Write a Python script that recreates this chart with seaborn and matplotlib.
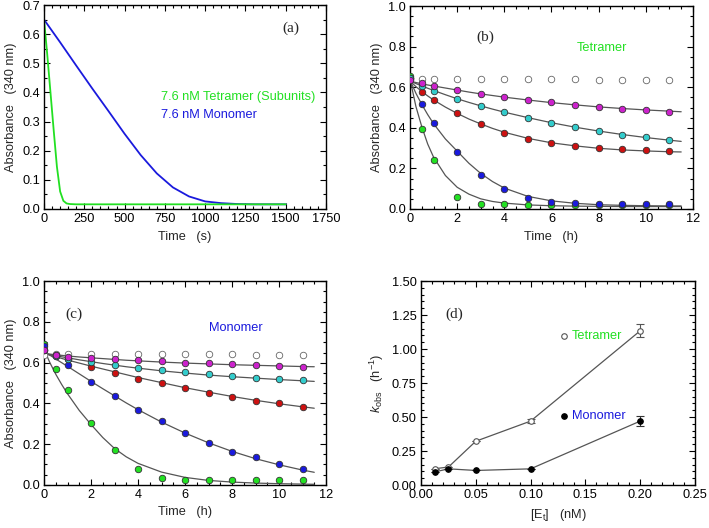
import numpy as np
import pandas as pd
import matplotlib
matplotlib.use("Agg")
import matplotlib.pyplot as plt
from matplotlib.ticker import MultipleLocator, FormatStrFormatter
import seaborn as sns

# ---------------- data ----------------
# panel (a): progress curves (time in s)
a_mono_t = [0, 100, 200, 300, 400, 500, 600, 700, 800, 900, 1000, 1100, 1200, 1300, 1500]
a_mono_A = [0.65, 0.572, 0.492, 0.413, 0.336, 0.258, 0.185, 0.122, 0.074, 0.043, 0.026, 0.020, 0.017, 0.016, 0.016]
a_tetra_t = [0, 20, 40, 60, 80, 100, 120, 140, 160, 200, 300, 1500]
a_tetra_A = [0.65, 0.53, 0.40, 0.27, 0.145, 0.06, 0.028, 0.019, 0.017, 0.016, 0.016, 0.016]

# panel (b)/(c): sampling times (h)
times = [0, 0.5, 1, 2, 3, 4, 5, 6, 7, 8, 9, 10, 11]
fit_t = [0, 0.25, 0.5, 0.75, 1, 1.5, 2, 2.5, 3, 3.5, 4, 5, 6, 7, 8, 9, 10, 11, 11.5]

# (b) tetramer points
b_open = [0.645, 0.642, 0.642, 0.641, 0.640, 0.640, 0.639, 0.638, 0.638, 0.637, 0.637, 0.636, 0.635]
b_magenta = [0.635, 0.619, 0.606, 0.586, 0.566, 0.552, 0.539, 0.527, 0.514, 0.504, 0.494, 0.489, 0.479]
b_cyan = [0.645, 0.606, 0.583, 0.542, 0.506, 0.476, 0.450, 0.425, 0.402, 0.384, 0.366, 0.353, 0.338]
b_red = [0.640, 0.578, 0.537, 0.471, 0.417, 0.376, 0.346, 0.327, 0.310, 0.302, 0.294, 0.289, 0.286]
b_blue = [0.645, 0.516, 0.424, 0.282, 0.167, 0.097, 0.056, 0.036, 0.028, 0.026, 0.025, 0.025, 0.025]
b_green = [0.655, 0.392, 0.240, 0.057, 0.026, 0.023, 0.021, 0.020, 0.020, 0.020, 0.020, 0.020, 0.020]
# (b) fitted curves
bf_magenta = [0.63, 0.623, 0.617, 0.611, 0.606, 0.596, 0.586, 0.576, 0.567, 0.559, 0.551, 0.537, 0.524, 0.513, 0.503, 0.495, 0.488, 0.482, 0.479]
bf_cyan = [0.63, 0.618, 0.606, 0.595, 0.584, 0.563, 0.543, 0.525, 0.508, 0.492, 0.477, 0.450, 0.425, 0.403, 0.384, 0.367, 0.352, 0.339, 0.333]
bf_red = [0.63, 0.603, 0.579, 0.557, 0.537, 0.502, 0.471, 0.443, 0.419, 0.397, 0.378, 0.348, 0.326, 0.311, 0.299, 0.291, 0.286, 0.282, 0.281]
bf_blue = [0.635, 0.57, 0.515, 0.465, 0.42, 0.345, 0.285, 0.225, 0.175, 0.135, 0.103, 0.062, 0.040, 0.028, 0.021, 0.018, 0.016, 0.015, 0.015]
bf_green = [0.64, 0.505, 0.405, 0.32, 0.255, 0.165, 0.107, 0.073, 0.050, 0.037, 0.029, 0.020, 0.016, 0.014, 0.013, 0.012, 0.012, 0.012, 0.012]

# (c) monomer points
c_open = [0.640, 0.645, 0.645, 0.645, 0.645, 0.645, 0.645, 0.643, 0.643, 0.642, 0.640, 0.640, 0.637]
c_magenta = [0.660, 0.640, 0.628, 0.623, 0.618, 0.612, 0.607, 0.600, 0.597, 0.592, 0.589, 0.586, 0.581]
c_cyan = [0.660, 0.632, 0.620, 0.603, 0.588, 0.574, 0.564, 0.552, 0.542, 0.534, 0.527, 0.519, 0.513]
c_red = [0.663, 0.636, 0.617, 0.580, 0.551, 0.520, 0.498, 0.475, 0.453, 0.432, 0.414, 0.400, 0.384]
c_blue = [0.683, 0.635, 0.587, 0.505, 0.437, 0.368, 0.312, 0.256, 0.207, 0.159, 0.134, 0.103, 0.078]
c_green = [0.690, 0.567, 0.467, 0.303, 0.170, 0.078, 0.034, 0.025, 0.022, 0.022, 0.022, 0.022, 0.022]
# (c) fitted curves
cf_magenta = [0.645, 0.642, 0.639, 0.636, 0.633, 0.628, 0.624, 0.620, 0.616, 0.612, 0.609, 0.603, 0.598, 0.594, 0.590, 0.587, 0.584, 0.581, 0.580]
cf_cyan = [0.645, 0.640, 0.634, 0.629, 0.624, 0.614, 0.605, 0.596, 0.588, 0.580, 0.573, 0.560, 0.549, 0.539, 0.531, 0.524, 0.517, 0.511, 0.508]
cf_red = [0.645, 0.637, 0.629, 0.621, 0.613, 0.598, 0.583, 0.569, 0.555, 0.541, 0.527, 0.502, 0.477, 0.455, 0.434, 0.415, 0.398, 0.383, 0.376]
cf_blue = [0.655, 0.637, 0.618, 0.600, 0.582, 0.545, 0.508, 0.472, 0.437, 0.402, 0.369, 0.308, 0.254, 0.206, 0.164, 0.128, 0.098, 0.072, 0.061]
cf_green = [0.665, 0.600, 0.543, 0.493, 0.447, 0.365, 0.296, 0.232, 0.178, 0.137, 0.105, 0.062, 0.036, 0.021, 0.013, 0.008, 0.005, 0.003, 0.002]

# (d) kobs vs enzyme concentration
d_conc = [0.0125, 0.025, 0.05, 0.10, 0.20]
d_tetra = [0.120, 0.132, 0.322, 0.470, 1.134]
d_tetra_err = [0.0, 0.0, 0.0, 0.015, 0.047]
d_mono = [0.096, 0.119, 0.107, 0.119, 0.470]
d_mono_err = [0.0, 0.0, 0.0, 0.0, 0.034]

# ---------------- style ----------------
sns.set_style("white")
plt.rcParams['font.family'] = ['Liberation Sans', 'DejaVu Sans']
plt.rcParams['mathtext.fontset'] = 'custom'
plt.rcParams['mathtext.rm'] = 'Liberation Sans'
plt.rcParams['mathtext.it'] = 'Liberation Sans:italic'

FS = 9.2
C_MAG = '#cc22cc'
C_CYAN = '#33cccc'
C_RED = '#cc1111'
C_BLUE = '#1a1add'
C_GREEN = '#22e022'
C_FIT = '#555555'

fig = plt.figure(figsize=(7.09, 5.28), dpi=100)
axA = fig.add_axes([0.0621, 0.6042, 0.3977, 0.3863])
axB = fig.add_axes([0.5783, 0.6042, 0.3991, 0.3844])
axC = fig.add_axes([0.0621, 0.0820, 0.3977, 0.3852])
axD = fig.add_axes([0.5938, 0.0814, 0.3865, 0.3864])


def style(ax):
    ax.tick_params(which='both', direction='in', top=True, right=True,
                   bottom=True, left=True, width=0.8, colors='black',
                   labelsize=FS, pad=3)
    ax.tick_params(which='major', length=4)
    ax.tick_params(which='minor', length=2)
    for s in ax.spines.values():
        s.set_linewidth(1.0)
        s.set_color('black')
    ax.set_facecolor('white')


# ---------------- panel (a) ----------------
dfa_m = pd.DataFrame({'t': a_mono_t, 'A': a_mono_A})
dfa_t = pd.DataFrame({'t': a_tetra_t, 'A': a_tetra_A})
sns.lineplot(data=dfa_m, x='t', y='A', ax=axA, color=C_BLUE, lw=1.3, estimator=None, sort=False)
sns.lineplot(data=dfa_t, x='t', y='A', ax=axA, color=C_GREEN, lw=1.3, estimator=None, sort=False)
axA.set_xlim(0, 1750)
axA.set_ylim(0, 0.7)
axA.xaxis.set_major_locator(MultipleLocator(250))
axA.xaxis.set_minor_locator(MultipleLocator(50))
axA.yaxis.set_major_locator(MultipleLocator(0.1))
axA.yaxis.set_minor_locator(MultipleLocator(0.05))
axA.yaxis.set_major_formatter(FormatStrFormatter('%.1f'))
axA.set_xlabel('Time   (s)', fontsize=FS)
axA.set_ylabel('Absorbance   (340 nm)', fontsize=FS)
axA.text(0.845, 0.87, '(a)', transform=axA.transAxes, fontsize=11, family='Liberation Serif')
axA.text(0.415, 0.535, '7.6 nM Tetramer (Subunits)', transform=axA.transAxes, fontsize=FS, color=C_GREEN)
axA.text(0.415, 0.445, '7.6 nM Monomer', transform=axA.transAxes, fontsize=FS, color=C_BLUE)
style(axA)


def kinetics_panel(ax, pts, fits):
    for f in fits:
        dff = pd.DataFrame({'t': fit_t, 'A': f})
        sns.lineplot(data=dff, x='t', y='A', ax=ax, color=C_FIT, lw=0.9, estimator=None, sort=False)
    for vals, face, edge in pts:
        dfp = pd.DataFrame({'t': times, 'A': vals})
        sns.scatterplot(data=dfp, x='t', y='A', ax=ax, s=22, color=face, edgecolor=edge,
                        linewidth=0.6, zorder=3)
    ax.set_xlim(0, 12)
    ax.set_ylim(0, 1.0)
    ax.xaxis.set_major_locator(MultipleLocator(2))
    ax.xaxis.set_minor_locator(MultipleLocator(0.5))
    ax.yaxis.set_major_locator(MultipleLocator(0.2))
    ax.yaxis.set_minor_locator(MultipleLocator(0.05))
    ax.yaxis.set_major_formatter(FormatStrFormatter('%.1f'))
    ax.set_xlabel('Time   (h)', fontsize=FS)
    ax.set_ylabel('Absorbance   (340 nm)', fontsize=FS)
    style(ax)


kinetics_panel(axB,
               [(b_open, 'white', '#666666'), (b_green, C_GREEN, '#333333'),
                (b_blue, C_BLUE, '#333333'), (b_red, C_RED, '#333333'),
                (b_cyan, C_CYAN, '#333333'), (b_magenta, C_MAG, '#333333')],
               [bf_magenta, bf_cyan, bf_red, bf_blue, bf_green])
axB.text(0.235, 0.83, '(b)', transform=axB.transAxes, fontsize=11, family='Liberation Serif')
axB.text(0.59, 0.78, 'Tetramer', transform=axB.transAxes, fontsize=FS, color=C_GREEN)

kinetics_panel(axC,
               [(c_open, 'white', '#666666'), (c_green, C_GREEN, '#333333'),
                (c_red, C_RED, '#333333'), (c_blue, C_BLUE, '#333333'),
                (c_cyan, C_CYAN, '#333333'), (c_magenta, C_MAG, '#333333')],
               [cf_magenta, cf_cyan, cf_red, cf_blue, cf_green])
axC.text(0.075, 0.82, '(c)', transform=axC.transAxes, fontsize=11, family='Liberation Serif')
axC.text(0.585, 0.755, 'Monomer', transform=axC.transAxes, fontsize=FS, color=C_BLUE)

# ---------------- panel (d) ----------------
dfd_t = pd.DataFrame({'c': d_conc, 'k': d_tetra})
dfd_m = pd.DataFrame({'c': d_conc, 'k': d_mono})
sns.lineplot(data=dfd_t, x='c', y='k', ax=axD, color=C_FIT, lw=0.9, estimator=None, sort=False)
sns.lineplot(data=dfd_m, x='c', y='k', ax=axD, color=C_FIT, lw=0.9, estimator=None, sort=False)
axD.errorbar(d_conc, d_tetra, yerr=d_tetra_err, fmt='none', ecolor='#555555', elinewidth=0.8, capsize=3, capthick=0.8)
axD.errorbar(d_conc, d_mono, yerr=d_mono_err, fmt='none', ecolor='#333333', elinewidth=0.8, capsize=3, capthick=0.8)
sns.scatterplot(data=dfd_t, x='c', y='k', ax=axD, s=16, color='white', edgecolor='#555555', linewidth=0.8, zorder=3)
sns.scatterplot(data=dfd_m, x='c', y='k', ax=axD, s=16, color='black', edgecolor='black', linewidth=0.8, zorder=3)
# legend-like markers
axD.scatter([0.1306], [1.094], s=16, facecolor='white', edgecolor='#555555', linewidth=0.8, zorder=3)
axD.scatter([0.1306], [0.505], s=16, facecolor='black', edgecolor='black', linewidth=0.8, zorder=3)
axD.text(0.1375, 1.094, 'Tetramer', fontsize=FS, color=C_GREEN, va='center')
axD.text(0.1375, 0.505, 'Monomer', fontsize=FS, color=C_BLUE, va='center')
axD.text(0.09, 0.82, '(d)', transform=axD.transAxes, fontsize=11, family='Liberation Serif')
axD.set_xlim(0, 0.25)
axD.set_ylim(0, 1.5)
axD.xaxis.set_major_locator(MultipleLocator(0.05))
axD.xaxis.set_minor_locator(MultipleLocator(0.01))
axD.yaxis.set_major_locator(MultipleLocator(0.25))
axD.yaxis.set_minor_locator(MultipleLocator(0.05))
axD.xaxis.set_major_formatter(FormatStrFormatter('%.2f'))
axD.yaxis.set_major_formatter(FormatStrFormatter('%.2f'))
axD.set_xlabel(r'[E$_{\mathrm{t}}$]   (nM)', fontsize=FS)
axD.set_ylabel(r'$k_{\mathrm{obs}}$   (h$^{-1}$)', fontsize=FS)
style(axD)

fig.savefig('out.png', dpi=100, facecolor='white')
